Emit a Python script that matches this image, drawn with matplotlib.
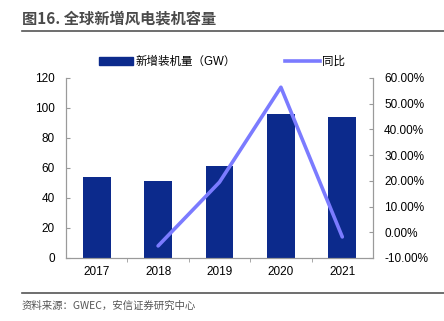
import matplotlib
matplotlib.use("Agg")
import matplotlib.pyplot as plt
from matplotlib.lines import Line2D
from matplotlib.ticker import FuncFormatter

plt.rcParams['font.family'] = ['Liberation Sans', 'Noto Sans CJK SC', 'DejaVu Sans']

years = ['2017', '2018', '2019', '2020', '2021']
capacity = [54.2, 51.3, 61.4, 96.0, 94.0]   # 新增装机量 (GW)
yoy = [None, -5.3, 19.5, 56.4, -1.8]          # 同比 (%)

bar_color = '#0c2a8c'
line_color = '#7b7bff'
axis_color = '#9a9a9a'

fig = plt.figure(figsize=(4.44, 3.21), dpi=100)
ax = fig.add_axes([66/444, 1-258/321, (373-66)/444, (258-78)/321])
x = list(range(len(years)))
ax.bar(x, capacity, width=0.45, color=bar_color, zorder=2)
ax.set_xlim(-0.5, len(years)-0.5)
ax.set_ylim(0, 120)
ax.set_yticks(range(0, 121, 20))
ax.set_xticks(x)
ax.set_xticklabels(years)
ax.set_xticks([i + 0.5 for i in x[:-1]], minor=True)
ax.tick_params(axis='x', which='major', length=0, pad=6, labelsize=8.5)
ax.tick_params(axis='x', which='minor', length=3, direction='out', color=axis_color)
ax.tick_params(axis='y', length=3, direction='in', color=axis_color, labelsize=8.5, pad=8)

ax2 = ax.twinx()
yx = [i for i, v in zip(x, yoy) if v is not None]
yv = [v / 100 for v in yoy if v is not None]
ax2.plot(yx, yv, color=line_color, lw=2.6, solid_capstyle='round', zorder=3)
ax2.set_ylim(-0.10, 0.60)
ax2.set_yticks([i / 10 for i in range(-1, 7)])
ax2.yaxis.set_major_formatter(FuncFormatter(lambda v, p: f"{v*100:.2f}%"))
ax2.tick_params(axis='y', length=3, direction='in', color=axis_color, labelsize=8.5, pad=8)

for a in (ax, ax2):
    a.spines['top'].set_visible(False)
    for s in ('left', 'right', 'bottom'):
        a.spines[s].set_color(axis_color)
        a.spines[s].set_linewidth(0.8)

handles = [plt.Rectangle((0, 0), 1, 1, color=bar_color),
           Line2D([0], [0], color=line_color, lw=2.6)]
fig.legend(handles, ['新增装机量（GW）', '同比'], loc='center', bbox_to_anchor=(0.5, 1-62/321),
           ncol=2, frameon=False, handlelength=3.0, handletextpad=0.2,
           columnspacing=4.3, prop={'family': ['Liberation Sans', 'Noto Sans CJK SC'], 'size': 8.3})

fig.text(22/444, 1-19/321, '图16. 全球新增风电装机容量', fontsize=11, fontweight='bold',
         color='#4a4a4a', va='center', ha='left', family=['Noto Sans CJK SC'])
fig.add_artist(Line2D([22/444, 1], [1-31/321, 1-31/321], color='#555555', lw=1.2))
fig.add_artist(Line2D([22/444, 1], [1-293/321, 1-293/321], color='#555555', lw=1.2))
fig.text(22/444, 1-306/321, '资料来源：GWEC，安信证券研究中心', fontsize=7.5, style='italic',
         color='#555555', va='center', ha='left', family=['Noto Sans CJK SC'])

fig.savefig('out.png', dpi=100)
